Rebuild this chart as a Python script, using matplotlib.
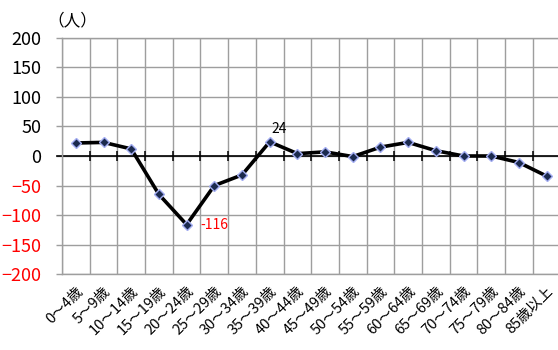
import matplotlib
matplotlib.use("Agg")
import matplotlib.pyplot as plt
import numpy as np

plt.rcParams['font.family'] = ['Noto Sans CJK JP', 'DejaVu Sans']

# age groups and net change in persons
age_groups = ['0～4歳', '5～9歳', '10～14歳', '15～19歳', '20～24歳', '25～29歳',
              '30～34歳', '35～39歳', '40～44歳', '45～49歳', '50～54歳', '55～59歳',
              '60～64歳', '65～69歳', '70～74歳', '75～79歳', '80～84歳', '85歳以上']
net_change = [22, 23, 12, -65, -116, -50, -32, 24, 4, 7, -1, 15,
              23, 9, 0, 0, -11, -34]
y_ticks = [200, 150, 100, 50, 0, -50, -100, -150, -200]

GRID = '#9e9e9e'

fig = plt.figure(figsize=(5.58, 3.5), dpi=100)
ax = fig.add_axes([62 / 558, 75.7 / 350, 498.5 / 558, 236.6 / 350])

x = np.arange(len(age_groups))
ax.set_xlim(-0.5, len(age_groups) - 0.5)
ax.set_ylim(-200, 200)

# grid: horizontal every 50, vertical at category boundaries
ax.set_yticks(y_ticks)
ax.set_xticks(x)
ax.set_xticks(np.arange(-0.5, len(age_groups)), minor=True)
ax.grid(True, which='major', axis='y', color=GRID, lw=1.0)
ax.grid(True, which='minor', axis='x', color=GRID, lw=1.0)
ax.tick_params(axis='x', which='both', length=0, pad=7)
ax.tick_params(axis='y', length=4, width=1, color=GRID, labelsize=13, pad=11)
for side in ['left', 'top', 'bottom', 'right']:
    ax.spines[side].set_color(GRID)
    ax.spines[side].set_linewidth(1.0)
ax.set_axisbelow(True)

ax.set_xticklabels(age_groups, rotation=45, ha='right', va='top',
                   rotation_mode='anchor', fontsize=10.5)
for lbl, v in zip(ax.get_yticklabels(), y_ticks):
    lbl.set_color('red' if v < 0 else 'black')

# zero axis with crossing tick marks
ax.axhline(0, xmin=-0.011, xmax=1, color='black', lw=1.2, clip_on=False, zorder=2)
bounds = np.arange(-0.5, len(age_groups))
ax.plot(bounds[1:], np.zeros(len(bounds) - 1), '|', ms=7, mew=1.1,
        color='black', zorder=2)

ax.plot(x, net_change, color='black', lw=2.6, zorder=3,
        marker='D', ms=5.5, mfc='#1b2a4e', mec='#a3adf2', mew=1.0)

# value labels for the peak and the trough
i_max = 7
i_min = 4
ax.annotate(str(net_change[i_max]), (x[i_max], net_change[i_max]),
            xytext=(7, 4), textcoords='offset points', ha='center', va='bottom',
            fontsize=10, color='black')
ax.annotate(str(net_change[i_min]), (x[i_min], net_change[i_min]),
            xytext=(10, 0), textcoords='offset points', ha='left', va='center',
            fontsize=10, color='red')

fig.text(72 / 558, 1 - 21 / 350, '（人）', ha='center', va='center', fontsize=12)

fig.savefig('out.png', dpi=100)
